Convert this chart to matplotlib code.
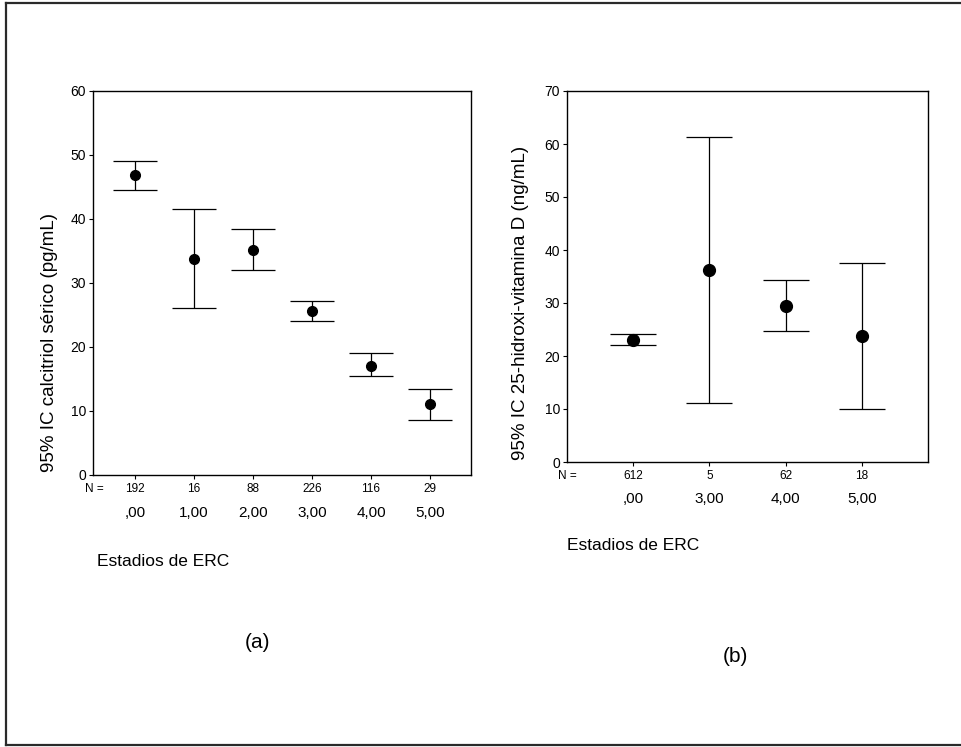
import matplotlib
matplotlib.use("Agg")
import matplotlib.pyplot as plt
from matplotlib.transforms import blended_transform_factory
from matplotlib.lines import Line2D

plt.rcParams['font.family'] = ['Liberation Sans', 'DejaVu Sans']

# ---- data ----
stages_a = [",00", "1,00", "2,00", "3,00", "4,00", "5,00"]
n_a = ["192", "16", "88", "226", "116", "29"]
mean_a = [46.8, 33.8, 35.2, 25.7, 17.1, 11.1]
low_a = [44.6, 26.1, 32.1, 24.1, 15.4, 8.6]
high_a = [49.0, 41.6, 38.4, 27.2, 19.1, 13.5]

stages_b = [",00", "3,00", "4,00", "5,00"]
n_b = ["612", "5", "62", "18"]
mean_b = [23.1, 36.3, 29.5, 23.8]
low_b = [22.0, 11.2, 24.8, 10.0]
high_b = [24.2, 61.3, 34.3, 37.6]

W, H = 962, 747
fig = plt.figure(figsize=(W / 100, H / 100), dpi=100)
fig.patch.set_facecolor('white')


def fx(px):
    return px / W


def fy(py):
    return 1 - py / H


# outer frame (left, top, bottom)
for (x0, y0, x1, y1) in [(6, 3, 6, 745), (6, 3, 962, 3), (6, 745, 962, 745)]:
    fig.add_artist(Line2D([fx(x0), fx(x1)], [fy(y0), fy(y1)], color='#2a2a2a',
                          lw=1.6, transform=fig.transFigure))


def panel(rect, mean, low, high, nlabels, stages, ylim, yticks, xlim,
          capsize, ms, ylabel, ylabel_xy, n_y, st_y, nlabel_x, est_xy, tag_xy, tag):
    ax = fig.add_axes(rect)
    x = list(range(len(mean)))
    yerr = [[m - l for m, l in zip(mean, low)], [h - m for m, h in zip(mean, high)]]
    ax.errorbar(x, mean, yerr=yerr, fmt='o', color='black', ms=ms, elinewidth=0.9,
                capsize=capsize, capthick=0.9, ecolor='black')
    ax.set_xlim(*xlim)
    ax.set_ylim(*ylim)
    ax.set_yticks(yticks)
    ax.set_yticklabels([str(t) for t in yticks], fontsize=10)
    ax.set_xticks(x)
    ax.set_xticklabels([])
    ax.tick_params(axis='both', direction='out', length=3, width=0.8, pad=2)
    for s in ax.spines.values():
        s.set_linewidth(1.0)
    tr = blended_transform_factory(ax.transData, fig.transFigure)
    for xi, nl, st in zip(x, nlabels, stages):
        ax.text(xi, fy(n_y), nl, transform=tr, ha='center', va='center', fontsize=8.5)
        ax.text(xi, fy(st_y), st, transform=tr, ha='center', va='center', fontsize=11)
    fig.text(fx(nlabel_x), fy(n_y), "N =", ha='center', va='center', fontsize=8.5)
    fig.text(fx(ylabel_xy[0]), fy(ylabel_xy[1]), ylabel, rotation=90,
             ha='center', va='center', fontsize=13.5)
    fig.text(fx(est_xy[0]), fy(est_xy[1]), "Estadios de ERC", ha='left',
             va='center', fontsize=12.5)
    fig.text(fx(tag_xy[0]), fy(tag_xy[1]), tag, ha='center', va='center', fontsize=15)
    return ax


panel([fx(93), fy(475), 378 / W, 384 / H], mean_a, low_a, high_a, n_a, stages_a,
      (0, 60), [0, 10, 20, 30, 40, 50, 60], (-0.712, 5.695), 15.5, 7,
      "95% IC calcitriol sérico (pg/mL)", (50, 343), 489, 513, 94,
      (97, 561), (258, 643), "(a)")

panel([fx(567), fy(462), 361 / W, 371 / H], mean_b, low_b, high_b, n_b, stages_b,
      (0, 70), [0, 10, 20, 30, 40, 50, 60, 70], (-0.865, 3.865), 16.5, 8.5,
      "95% IC 25-hidroxi-vitamina D (ng/mL)", (521, 303), 476, 499, 567,
      (567, 545), (735, 656), "(b)")

fig.savefig("out.png", dpi=100, facecolor='white')
